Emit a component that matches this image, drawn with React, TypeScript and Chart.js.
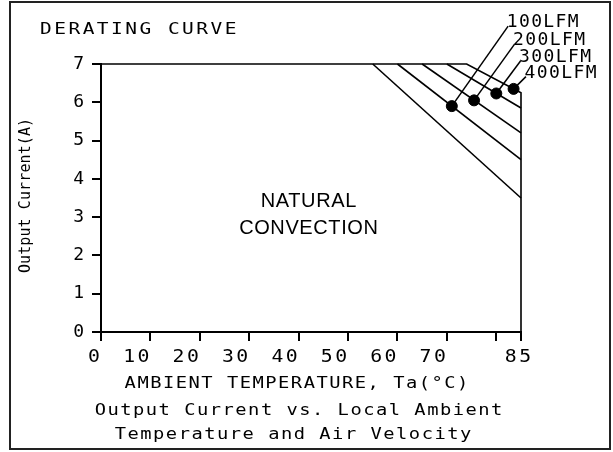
import React, { useEffect, useRef } from "react";
import { Chart, registerables } from "chart.js";

Chart.register(...registerables);

// Temperature axis (°C) and current axis (A)
const tempTicks = [0, 10, 20, 30, 40, 50, 60, 70, 80, 85];
const tempTickLabels = ["0", "10", "20", "30", "40", "50", "60", "70", "", "85"];
const currentTicks = [0, 1, 2, 3, 4, 5, 6, 7];

// Derating curves: ambient temperature (°C) -> maximum output current (A)
const naturalTemp = [55, 85];
const naturalCurrent = [7, 3.5];
const lfm100Temp = [60, 85];
const lfm100Current = [7, 4.5];
const lfm200Temp = [65, 85];
const lfm200Current = [7, 5.2];
const lfm300Temp = [70, 85];
const lfm300Current = [7, 5.85];
const lfm400Temp = [0, 74, 85, 85];
const lfm400Current = [7, 7, 6.25, 0];

// Marked operating points on the forced-air curves
const airflowNames = ["100LFM", "200LFM", "300LFM", "400LFM"];
const markerTemp = [71, 75.5, 80, 83.5];
const markerCurrent = [5.9, 6.05, 6.23, 6.35];

const CAD_FONT = '"DejaVu Sans Mono", monospace';
const SANS_FONT = '"Liberation Sans", Arial, sans-serif';

// where each airflow callout's leader line ends (in data units)
const calloutTemp = [82.4, 83.7, 84.9, 86.0];
const calloutCurrent = [7.99, 7.52, 7.08, 6.67];

// Draws text with letter spacing and an optional horizontal stretch,
// aligned on its inked advance (trailing spacing excluded).
function spacedText(
  ctx: CanvasRenderingContext2D,
  text: string,
  x: number,
  y: number,
  font: string,
  spacing: number,
  align: "left" | "center" | "right",
  stretch = 1
) {
  ctx.save();
  ctx.font = font;
  (ctx as any).letterSpacing = spacing + "px";
  const w = (ctx.measureText(text).width - spacing) * stretch;
  let left = x;
  if (align === "center") left = x - w / 2;
  else if (align === "right") left = x - w;
  ctx.textAlign = "left";
  ctx.textBaseline = "alphabetic";
  ctx.fillStyle = "#000";
  ctx.translate(left, y);
  ctx.scale(stretch, 1);
  ctx.fillText(text, 0, 0);
  ctx.restore();
}

const drawingPlugin = {
  id: "deratingDrawing",
  beforeDraw(chart: any) {
    const ctx = chart.ctx as CanvasRenderingContext2D;
    ctx.save();
    ctx.fillStyle = "#fff";
    ctx.fillRect(0, 0, chart.width, chart.height);
    ctx.restore();
  },
  afterDraw(chart: any) {
    const ctx = chart.ctx as CanvasRenderingContext2D;
    const xs = chart.scales.x;
    const ys = chart.scales.y;

    // frame
    ctx.save();
    ctx.strokeStyle = "#222";
    ctx.lineWidth = 2;
    ctx.strokeRect(10, 2, 600, 447);
    ctx.restore();

    // heading
    spacedText(ctx, "DERATING CURVE", 40, 33.5, `15px ${CAD_FONT}`, 1.9, "left", 1.3);

    // temperature tick labels
    tempTicks.forEach((v, i) => {
      const label = tempTickLabels[i];
      if (!label) return;
      const px = xs.getPixelForValue(v);
      const last = i === tempTicks.length - 1;
      spacedText(ctx, label, last ? px - 3 : px - 1, xs.top + 29.5, `18px ${CAD_FONT}`, 2.2, last ? "center" : "right", 1.1);
    });

    // axis titles and caption
    spacedText(ctx, "AMBIENT TEMPERATURE, Ta(°C)", 296.5, 388.3, `15px ${CAD_FONT}`, 1.2, "center", 1.25);
    spacedText(ctx, "Output Current vs. Local Ambient", 298.5, 415.3, `15px ${CAD_FONT}`, 1.2, "center", 1.25);
    spacedText(ctx, "Temperature and Air Velocity", 293, 438.5, `15px ${CAD_FONT}`, 1.2, "center", 1.25);

    ctx.save();
    ctx.translate(30, 195.5);
    ctx.rotate(-Math.PI / 2);
    spacedText(ctx, "Output Current(A)", 0, 0, `15px ${CAD_FONT}`, 0.1, "center");
    ctx.restore();

    // region label
    const cx = xs.getPixelForValue(42);
    spacedText(ctx, "NATURAL", cx, ys.getPixelForValue(3.26), `20px ${SANS_FONT}`, 0.6, "center");
    spacedText(ctx, "CONVECTION", cx, ys.getPixelForValue(2.56), `20px ${SANS_FONT}`, 0.6, "center");

    // airflow callouts with leader lines
    airflowNames.forEach((name, i) => {
      const mx = xs.getPixelForValue(markerTemp[i]);
      const my = ys.getPixelForValue(markerCurrent[i]);
      const ex = xs.getPixelForValue(calloutTemp[i]);
      const ey = ys.getPixelForValue(calloutCurrent[i]);
      ctx.save();
      ctx.strokeStyle = "#000";
      ctx.lineWidth = 1.5;
      ctx.beginPath();
      ctx.moveTo(mx, my);
      ctx.lineTo(ex, ey);
      ctx.stroke();
      ctx.restore();
      spacedText(ctx, name, ex - 1.5, ey + 1, `18px ${CAD_FONT}`, 1.4, "left");
    });
  },
};

export default function App() {
  const ref = useRef<HTMLCanvasElement>(null);

  useEffect(() => {
    const canvas = ref.current;
    if (!canvas) return;
    const pts = (xv: number[], yv: number[]) => xv.map((x, i) => ({ x, y: yv[i] }));
    const curve = (label: string, xv: number[], yv: number[]) => ({
      type: "line" as const,
      label,
      data: pts(xv, yv),
      borderColor: "#000",
      borderWidth: 1.6,
      pointRadius: 0,
      fill: false,
      tension: 0,
      clip: false as const,
    });

    const axisGrid = {
      drawOnChartArea: false,
      drawTicks: true,
      tickLength: 9,
      color: "#000",
      lineWidth: 2,
    };

    const chart = new Chart(canvas, {
      type: "line",
      data: {
        datasets: [
          curve("Natural convection", naturalTemp, naturalCurrent),
          curve("100LFM", lfm100Temp, lfm100Current),
          curve("200LFM", lfm200Temp, lfm200Current),
          curve("300LFM", lfm300Temp, lfm300Current),
          curve("400LFM", lfm400Temp, lfm400Current),
          {
            type: "scatter" as const,
            label: "Operating points",
            data: pts(markerTemp, markerCurrent),
            pointRadius: 5.5,
            pointBackgroundColor: "#000",
            pointBorderColor: "#000",
            showLine: false,
            clip: false as const,
          },
        ] as any,
      },
      options: {
        responsive: false,
        animation: false,
        devicePixelRatio: 1,
        events: [],
        layout: { padding: { left: 0, top: 64, right: 92, bottom: 0 } },
        plugins: {
          legend: { display: false },
          tooltip: { enabled: false },
          title: { display: false },
        },
        scales: {
          x: {
            type: "linear",
            min: 0,
            max: 85,
            afterBuildTicks: (s: any) => {
              s.ticks = tempTicks.map((value) => ({ value }));
            },
            afterFit: (s: any) => {
              s.height = 120;
            },
            grid: axisGrid,
            border: { display: true, color: "#000", width: 2 },
            ticks: { display: false },
          },
          y: {
            type: "linear",
            min: 0,
            max: 7,
            afterBuildTicks: (s: any) => {
              s.ticks = currentTicks.map((value) => ({ value }));
            },
            afterFit: (s: any) => {
              s.width = 101;
            },
            grid: axisGrid,
            border: { display: true, color: "#000", width: 2 },
            ticks: {
              color: "#000",
              padding: 8,
              font: { family: CAD_FONT, size: 18 },
              callback: (v: any) => String(v),
            },
          },
        } as any,
      },
      plugins: [drawingPlugin],
    });

    return () => chart.destroy();
  }, []);

  return (
    <div style={{ position: "fixed", left: 0, top: 0, width: 613, height: 452, background: "#fff" }}>
      <canvas ref={ref} width={613} height={452} style={{ display: "block" }} />
    </div>
  );
}
